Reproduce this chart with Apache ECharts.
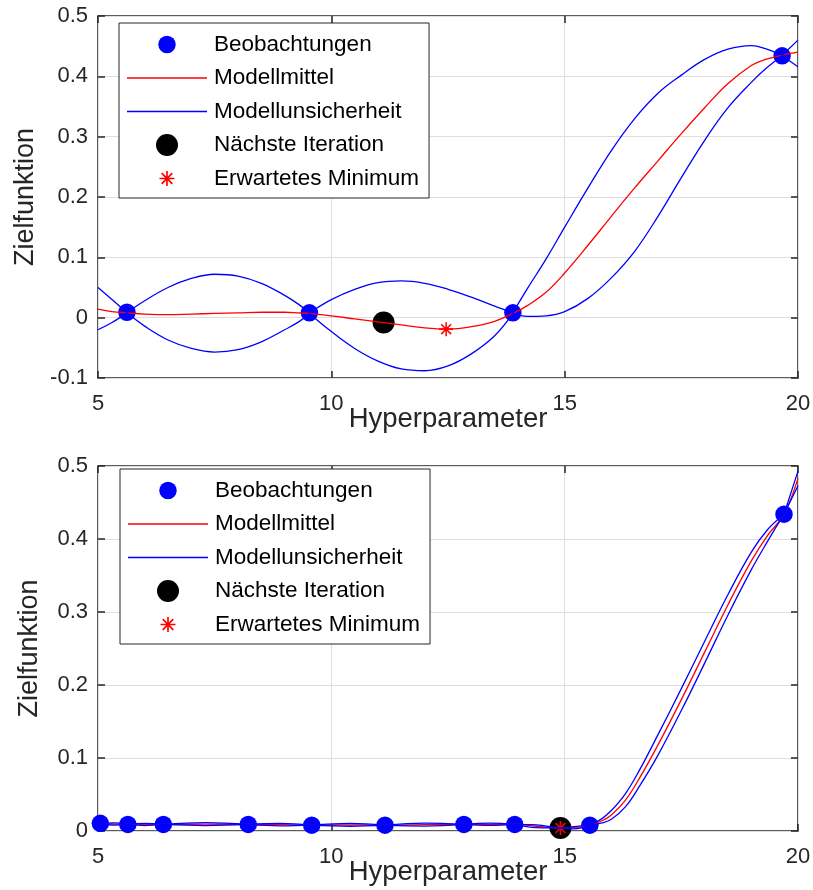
<!DOCTYPE html>
<html>
<head>
<meta charset="utf-8">
<script src="https://cdn.jsdelivr.net/npm/echarts@6/dist/echarts.min.js"></script>
<style>
  html, body { margin: 0; padding: 0; background: #fff; }
  #main { width: 813px; height: 890px; }
</style>
</head>
<body>
<div id="main"></div>
<script>
// ---- data: upper plot (4 observations) ----
var obsTopX = [5.62, 9.53, 13.89, 19.66];
var obsTopY = [0.009, 0.008, 0.008, 0.434];
var nextTop = [11.12, -0.008];
var minTop = [12.46, -0.019];

var curveTopX = [5.0, 5.3, 5.62, 6.0, 6.5, 7.0, 7.5, 8.0, 8.5, 9.0, 9.3, 9.53, 10.0, 10.5, 11.0, 11.5,
  12.0, 12.5, 13.0, 13.5, 13.89, 14.2, 14.6, 15.0, 15.5, 16.0, 16.5, 17.0, 17.5, 18.0, 18.5, 19.0, 19.3, 19.66, 20.0];
var meanTopY = [0.014, 0.010, 0.008, 0.006, 0.005, 0.006, 0.007, 0.008, 0.009, 0.009, 0.008, 0.007, 0.003, -0.002, -0.007, -0.012,
  -0.017, -0.019, -0.015, -0.006, 0.007, 0.020, 0.042, 0.074, 0.120, 0.168, 0.215, 0.260, 0.305, 0.348, 0.388, 0.418, 0.428, 0.435, 0.440];
var upperTopY = [0.050, 0.030, 0.008, 0.028, 0.050, 0.065, 0.072, 0.069, 0.057, 0.037, 0.022, 0.008, 0.030, 0.047, 0.058, 0.061,
  0.057, 0.047, 0.034, 0.019, 0.008, 0.048, 0.097, 0.150, 0.215, 0.277, 0.330, 0.372, 0.402, 0.428, 0.445, 0.451, 0.446, 0.435, 0.460];
var lowerTopY = [-0.020, -0.008, 0.008, -0.014, -0.037, -0.051, -0.057, -0.053, -0.040, -0.020, -0.007, 0.007, -0.023, -0.051, -0.072, -0.085,
  -0.088, -0.080, -0.060, -0.030, 0.007, 0.002, 0.003, 0.010, 0.032, 0.066, 0.110, 0.168, 0.232, 0.294, 0.348, 0.390, 0.412, 0.434, 0.416];

// ---- data: lower plot (10 observations) ----
var obsBotX = [5.05, 5.64, 6.4, 8.22, 9.58, 11.15, 12.84, 13.93, 15.54, 19.7];
var obsBotY = [0.0105, 0.009, 0.009, 0.009, 0.008, 0.008, 0.009, 0.009, 0.008, 0.434];
var nextBot = [14.91, 0.004];
var minBot = [14.91, 0.004];

var curveBotX = [5.0, 5.05, 5.35, 5.64, 6.0, 6.4, 7.3, 8.22, 8.9, 9.58, 10.4, 11.15, 12.0, 12.84, 13.4, 13.93, 14.4,
  14.91, 15.2, 15.54, 15.8, 16.0, 16.3, 16.6, 17.0, 17.5, 18.0, 18.5, 19.0, 19.35, 19.7, 20.0];
var meanBotY = [0.0105, 0.0105, 0.0095, 0.009, 0.009, 0.009, 0.0095, 0.009, 0.0088, 0.008, 0.0085, 0.008, 0.0088, 0.009, 0.0092, 0.009, 0.0065,
  0.004, 0.0045, 0.008, 0.014, 0.022, 0.042, 0.072, 0.118, 0.180, 0.245, 0.310, 0.370, 0.405, 0.434, 0.483];
var upperBotY = [0.0105, 0.0105, 0.011, 0.009, 0.0105, 0.009, 0.0115, 0.009, 0.0105, 0.008, 0.0105, 0.008, 0.0108, 0.009, 0.0108, 0.009, 0.0085,
  0.004, 0.006, 0.008, 0.017, 0.028, 0.051, 0.083, 0.132, 0.195, 0.260, 0.324, 0.382, 0.413, 0.434, 0.493];
var lowerBotY = [0.0105, 0.0105, 0.008, 0.009, 0.0075, 0.009, 0.0075, 0.009, 0.007, 0.008, 0.0065, 0.008, 0.0068, 0.009, 0.0076, 0.009, 0.0045,
  0.004, 0.003, 0.008, 0.011, 0.016, 0.033, 0.061, 0.104, 0.165, 0.230, 0.296, 0.358, 0.397, 0.434, 0.473];

var legendNames = ['Beobachtungen', 'Modellmittel', 'Modellunsicherheit', 'Nächste Iteration', 'Erwartetes Minimum'];

var FONT = '"Liberation Sans", Arial, sans-serif';
var INK = '#262626';
// MATLAB '*' marker: plus + cross
var STAR = 'path://M8.9 0L11.1 0L11.1 20L8.9 20Z M0 8.9L20 8.9L20 11.1L0 11.1Z ' +
  'M2.15 3.71L3.71 2.15L17.85 16.29L16.29 17.85Z M16.29 2.15L17.85 3.71L3.71 17.85L2.15 16.29Z';
// padded versions so the legend icons keep their relative sizes
var STAR_ICON = 'path://M-4.67 -4.67M24.67 24.67' + STAR.slice(7);
var DOT_ICON = 'path://M-2.57 -2.57M22.57 22.57M0 10A10 10 0 1 1 20 10A10 10 0 1 1 0 10Z';
var LINE_ICON = 'path://M0 0L80 0L80 1.3L0 1.3Z';

function pairs(xs, ys) {
  return xs.map(function(x, i) { return [x, ys[i]]; });
}

// the uncertainty band pinches at every observation, so break the
// smoothed line there to keep the sharp corner
function bandData(xs, ys, kinks) {
  var out = [];
  xs.forEach(function(x, i) {
    out.push([x, ys[i]]);
    if (i > 0 && i < xs.length - 1 && kinks.indexOf(x) >= 0) {
      out.push([x, '-']);
      out.push([x, ys[i]]);
    }
  });
  return out;
}

function xAxisFor(gridIndex, top) {
  return {
    type: 'value', gridIndex: gridIndex, min: 5, max: 20, interval: 5,
    position: top ? 'top' : 'bottom',
    name: top ? '' : 'Hyperparameter',
    nameLocation: 'middle', nameGap: 27, nameMoveOverlap: false,
    nameTextStyle: { fontFamily: FONT, fontSize: 27.5, color: INK },
    axisLine: { show: false, onZero: false },
    axisTick: { show: true, inside: true, length: 7, lineStyle: { color: INK, width: 1.5 } },
    axisLabel: { show: !top, fontFamily: FONT, fontSize: 22, color: INK, margin: 15 },
    splitLine: { show: !top, lineStyle: { color: '#dedede', width: 1 } }
  };
}

function yAxisFor(gridIndex, min, right) {
  return {
    type: 'value', gridIndex: gridIndex, min: min, max: 0.5, interval: 0.1,
    position: right ? 'right' : 'left',
    name: right ? '' : 'Zielfunktion',
    nameLocation: 'middle', nameGap: 55, nameRotate: 90,
    nameTextStyle: { fontFamily: FONT, fontSize: 27, color: INK },
    axisLine: { show: false, onZero: false },
    axisTick: { show: true, inside: true, length: 7, lineStyle: { color: INK, width: 1.5 } },
    axisLabel: { show: !right, fontFamily: FONT, fontSize: 22, color: INK, margin: 10 },
    splitLine: { show: !right, lineStyle: { color: '#dedede', width: 1 } }
  };
}

function legendFor(left, top) {
  return {
    left: left, top: top, orient: 'vertical',
    itemWidth: 80, itemHeight: 22, itemGap: 10.5,
    padding: [10, 10, 8, 8],
    borderColor: INK, borderWidth: 1, backgroundColor: '#fff',
    textStyle: { fontFamily: FONT, fontSize: 22.5, color: '#000', lineHeight: 22, padding: [0, 0, 0, 2] },
    selectedMode: false,
    data: [
      { name: legendNames[0], icon: DOT_ICON },
      { name: legendNames[1], icon: LINE_ICON },
      { name: legendNames[2], icon: LINE_ICON },
      { name: legendNames[3], icon: 'circle' },
      { name: legendNames[4], icon: STAR_ICON }
    ]
  };
}

function seriesFor(idx, obsX, obsY, curveX, meanY, upperY, lowerY, next, best) {
  var line = function(name, data, color) {
    return {
      name: name, type: 'line', xAxisIndex: idx, yAxisIndex: idx,
      data: data, symbol: 'none', smooth: 0.4, connectNulls: false,
      lineStyle: { color: color, width: 1.3 }, itemStyle: { color: color }
    };
  };
  return [
    {
      name: legendNames[0], type: 'scatter', xAxisIndex: idx, yAxisIndex: idx,
      data: pairs(obsX, obsY), symbol: 'circle', symbolSize: 17.5,
      itemStyle: { color: '#0000ff', opacity: 1 }
    },
    line(legendNames[1], pairs(curveX, meanY), '#ff0000'),
    line(legendNames[2], bandData(curveX, upperY, obsX), '#0000ff'),
    line(legendNames[2], bandData(curveX, lowerY, obsX), '#0000ff'),
    {
      name: legendNames[3], type: 'scatter', xAxisIndex: idx, yAxisIndex: idx,
      data: [next], symbol: 'circle', symbolSize: 22,
      itemStyle: { color: '#000000', opacity: 1 }
    },
    {
      name: legendNames[4], type: 'scatter', xAxisIndex: idx, yAxisIndex: idx,
      data: [best], symbol: STAR, symbolSize: 14,
      itemStyle: { color: '#ff0000', opacity: 1 }
    }
  ];
}

var chart = echarts.init(document.getElementById('main'), null, { renderer: 'canvas' });

var gridBase = {
  left: 98, width: 700, show: true, borderColor: INK, borderWidth: 1.5,
  backgroundColor: 'transparent', containLabel: false, outerBoundsMode: 'none'
};

var option = {
  animation: false,
  backgroundColor: '#ffffff',
  grid: [
    Object.assign({}, gridBase, { top: 16, height: 362 }),
    Object.assign({}, gridBase, { top: 466, height: 365 })
  ],
  xAxis: [xAxisFor(0, false), xAxisFor(1, false), xAxisFor(0, true), xAxisFor(1, true)],
  yAxis: [yAxisFor(0, -0.1, false), yAxisFor(1, 0, false), yAxisFor(0, -0.1, true), yAxisFor(1, 0, true)],
  legend: [legendFor(119, 23), legendFor(120, 469)],
  series: seriesFor(0, obsTopX, obsTopY, curveTopX, meanTopY, upperTopY, lowerTopY, nextTop, minTop)
    .concat(seriesFor(1, obsBotX, obsBotY, curveBotX, meanBotY, upperBotY, lowerBotY, nextBot, minBot))
};

chart.setOption(option);
</script>
</body>
</html>
